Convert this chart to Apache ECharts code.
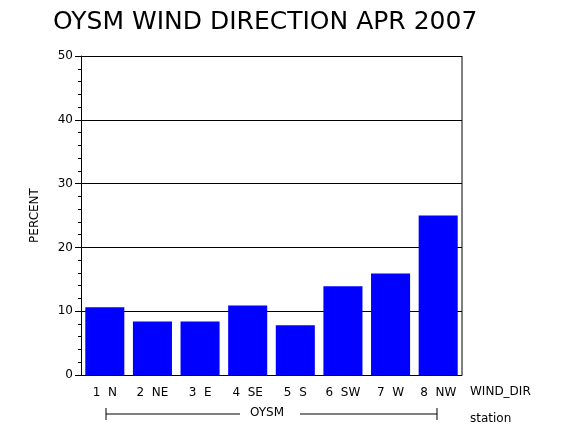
<!DOCTYPE html>
<html><head><meta charset="utf-8">
<script src="https://cdn.jsdelivr.net/npm/echarts@6/dist/echarts.min.js"></script>
<style>html,body{margin:0;padding:0;background:#fff}#c{width:570px;height:430px}</style>
</head><body><div id="c"></div>
<script>
var categories = ['1 N','2 NE','3 E','4 SE','5 S','6 SW','7 W','8 NW'];
var values = [10.6, 8.4, 8.4, 10.9, 7.8, 13.9, 15.9, 25.0];
var yTicks = [0,10,20,30,40,50];
var chart = echarts.init(document.getElementById('c'));
var f = 'DejaVu Sans';
chart.setOption({
  animation:false,
  title:{text:'OYSM WIND DIRECTION APR 2007',left:48,top:5,textStyle:{fontFamily:f,fontSize:25,fontWeight:'normal',color:'#000'}},
  grid:{left:81,right:108,top:56,bottom:55},
  xAxis:{type:'category',data:categories,
    axisLine:{lineStyle:{color:'#000'}},axisTick:{show:false},
    axisLabel:{color:'#000',fontFamily:f,fontSize:12,margin:12,formatter:function(v){return v.replace(' ','  ');}}},
  yAxis:{type:'value',min:0,max:50,interval:10,name:'PERCENT',nameLocation:'middle',nameGap:40,
    nameTextStyle:{color:'#000',fontFamily:f,fontSize:12},
    axisLine:{show:true,lineStyle:{color:'#000'}},
    axisTick:{show:true,length:6,lineStyle:{color:'#000'}},
    minorTick:{show:true,splitNumber:5,length:3,lineStyle:{color:'#000'}},
    splitLine:{show:true,lineStyle:{color:'#000',width:1}},
    axisLabel:{color:'#000',fontFamily:f,fontSize:12,formatter:function(v){return yTicks.indexOf(v)>=0?String(v):'';}}},
  series:[{type:'bar',data:values,barCategoryGap:'18%',itemStyle:{color:'#0000ff'}}],
  graphic:[
    {type:'line',shape:{x1:462,y1:56,x2:462,y2:375},style:{stroke:'#000'}},
    {type:'text',left:470,top:386,style:{text:'WIND_DIR',fontFamily:f,fontSize:12,fill:'#000'}},
    {type:'text',left:470,top:413,style:{text:'station',fontFamily:f,fontSize:12,fill:'#000'}},
    {type:'line',shape:{x1:106,y1:414,x2:240,y2:414},style:{stroke:'#000'}},
    {type:'line',shape:{x1:300,y1:414,x2:437,y2:414},style:{stroke:'#000'}},
    {type:'line',shape:{x1:106,y1:408,x2:106,y2:420},style:{stroke:'#000'}},
    {type:'line',shape:{x1:437,y1:408,x2:437,y2:420},style:{stroke:'#000'}},
    {type:'text',left:250,top:407,style:{text:'OYSM',fontFamily:f,fontSize:12,fill:'#000'}}
  ]
});
</script></body></html>
